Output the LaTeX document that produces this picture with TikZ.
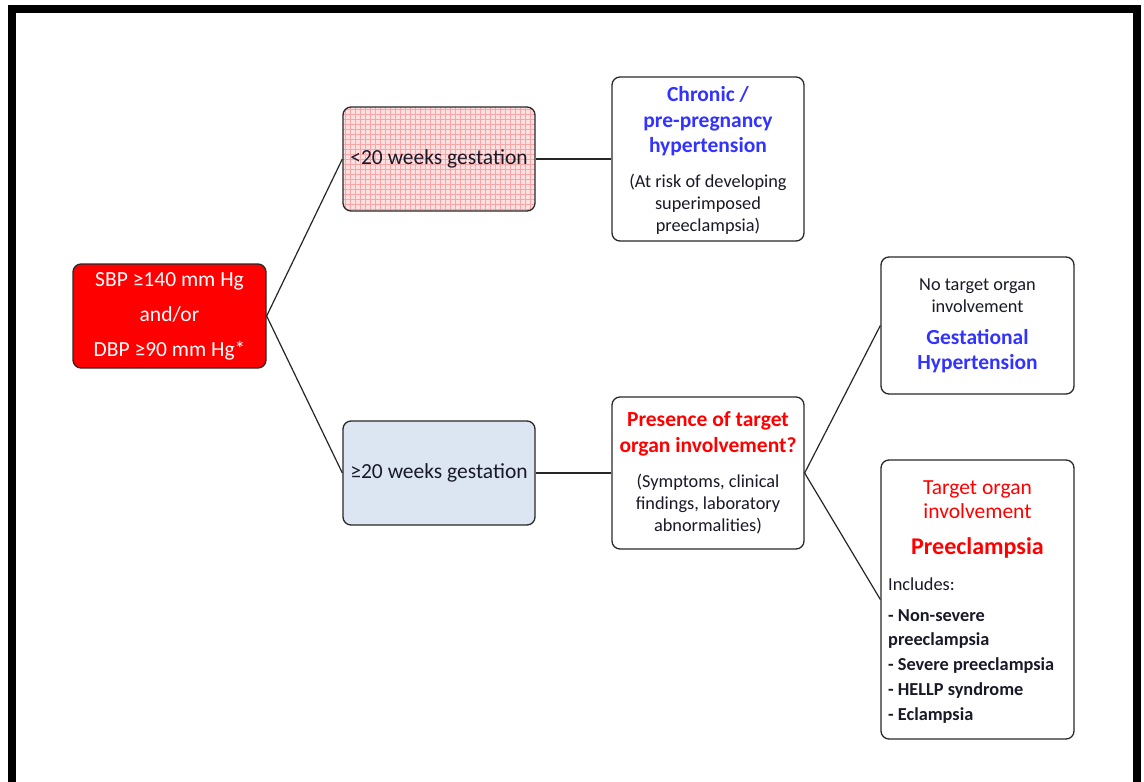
\documentclass[tikz,border=0pt]{standalone}
\usepackage{fontspec}
\setmainfont{Carlito}
\usetikzlibrary{calc}
\definecolor{hblue}{RGB}{51,51,255}
\definecolor{hred}{RGB}{255,0,0}
\definecolor{boxred}{RGB}{255,0,0}
\definecolor{lightblue}{RGB}{220,230,242}
\definecolor{pinkfill}{RGB}{255,224,224}
\definecolor{pinkgrid}{RGB}{250,165,165}
\definecolor{txt}{RGB}{25,25,40}
\definecolor{edge}{RGB}{40,40,40}
\begin{document}
\begin{tikzpicture}[x=1pt,y=-1pt,
 box/.style={draw=edge, line width=1.3pt, rounded corners=8pt, inner sep=0pt, fill=white},
 link/.style={draw=black!85, line width=1.2pt},
 body/.style={font=\fontsize{18.3}{22}\selectfont, text=txt, align=center, inner sep=0pt},
 head/.style={font=\fontsize{21.5}{25.5}\selectfont\bfseries, align=center, inner sep=0pt},
 main/.style={font=\fontsize{21.5}{35}\selectfont, align=center},
]
\useasboundingbox (0,0) rectangle (1144,782);
\fill[white] (0,0) rectangle (1144,782);
\draw[line width=8pt] (12,8.5) rectangle (1137,786);

% boxes
\node[box, fill=boxred, minimum width=193pt, minimum height=104pt, main, text=white] (bp) at (169.5,316)
  {SBP ≥140 mm Hg\\and/or\\DBP ≥90 mm Hg*};
\node[box, fill=pinkfill, minimum width=192pt, minimum height=104pt, main, text=txt,
  path picture={\draw[pinkgrid, line width=0.45pt, step=5pt] (path picture bounding box.south west) grid (path picture bounding box.north east);}] (lt) at (439,159)
  {<20 weeks gestation};
\node[box, fill=lightblue, minimum width=192pt, minimum height=104pt, main, text=txt] (ge) at (439,473)
  {≥20 weeks gestation};
\node[box, minimum width=192pt, minimum height=164pt] (chr) at (708,159) {};
\node[box, minimum width=192pt, minimum height=152pt] (pres) at (708,473) {};
\node[box, minimum width=193pt, minimum height=137pt] (gest) at (977.5,325.5) {};
\node[box, minimum width=193pt, minimum height=279pt] (pre) at (977.5,599.5) {};

% texts
\node[head, text=hblue] (chrH) at (708,121.5) {Chronic /\\pre-pregnancy\\hypertension};
\node[body] (chrB) at (708,204.5) {(At risk of developing\\superimposed\\preeclampsia)};
\node[head, text=hred] (presH) at (708,434) {Presence of target\\organ involvement?};
\node[body] (presB) at (708,504) {(Symptoms, clinical\\findings, laboratory\\abnormalities)};
\node[body] (gestB) at (977.5,296) {No target organ\\involvement};
\node[head, text=hblue] (gestH) at (977.5,351) {Gestational\\Hypertension};
\node[font=\fontsize{21.5}{24}\selectfont, text=hred, align=center, inner sep=0pt] (preB) at (977.5,500) {Target organ\\involvement};
\node[font=\fontsize{24}{26}\selectfont\bfseries, text=hred, inner sep=0pt] (preH) at (977.5,548) {Preeclampsia};
\node[font=\fontsize{18.3}{22}\selectfont, text=txt, anchor=west, inner sep=0pt] (inc) at (888,584) {Includes:};
\node[font=\fontsize{18.3}{24.75}\selectfont\bfseries, text=txt, align=left, anchor=west, inner sep=0pt] (list) at (888,666)
  {- Non-severe\\preeclampsia\\- Severe preeclampsia\\- HELLP syndrome\\- Eclampsia};

% connectors
\draw[link] (bp.east) -- (lt.west);
\draw[link] (bp.east) -- (ge.west);
\draw[link] (lt.east) -- (chr.west);
\draw[link] (ge.east) -- (pres.west);
\draw[link] (pres.east) -- (gest.west);
\draw[link] (pres.east) -- (pre.west);
\end{tikzpicture}
\end{document}
